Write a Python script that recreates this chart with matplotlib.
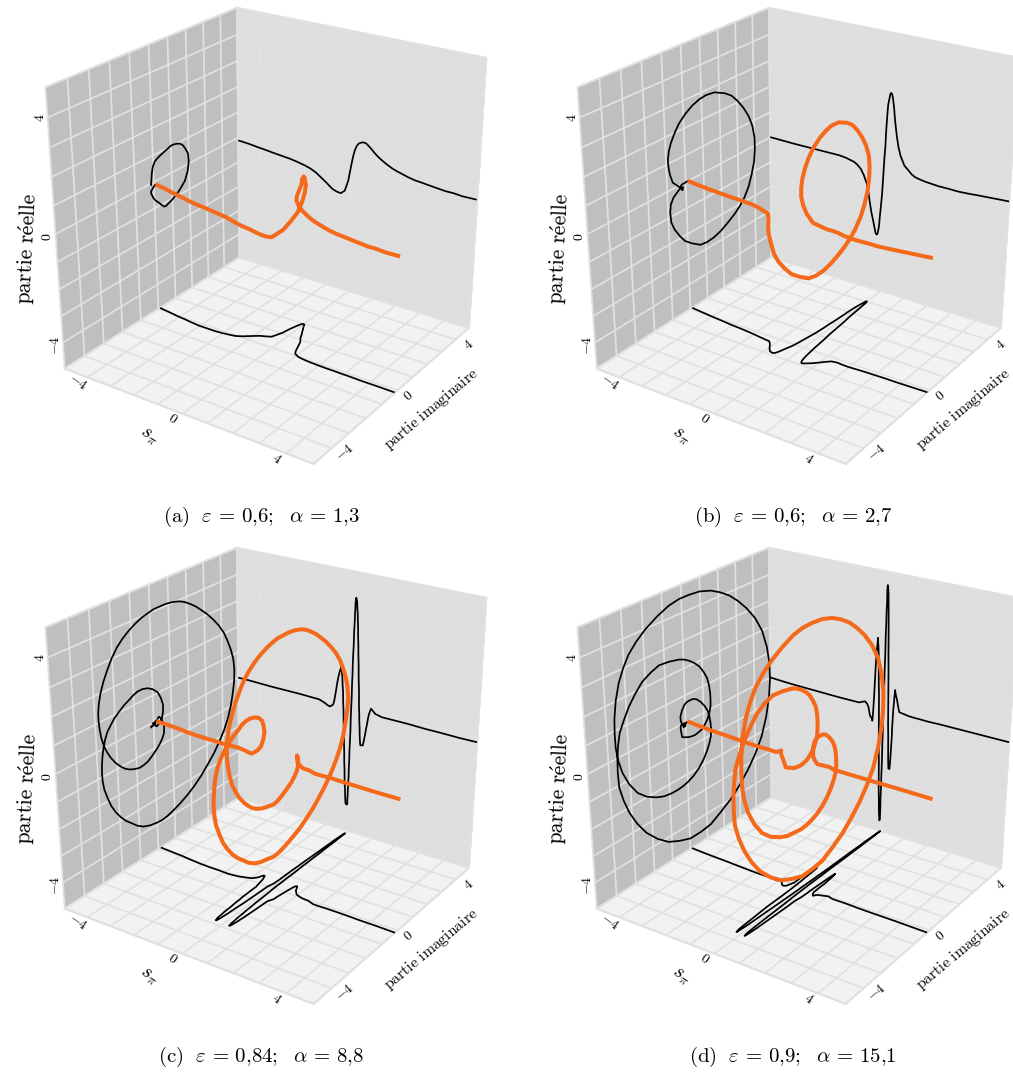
import numpy as np
import matplotlib
matplotlib.use('Agg')
import matplotlib.pyplot as plt

plt.rcParams['mathtext.fontset'] = 'cm'

s_a = [-5.00,-4.50,-4.13,-3.76,-3.39,-3.03,-2.67,-2.34,-2.02,-1.76,-1.52,-1.30,-1.09,-0.94,-0.80,-0.63,-0.44,-0.28,-0.22,-0.14,-0.08,-0.02,
       0.04,0.10,0.17,0.25,0.35,0.43,0.51,0.59,0.66,0.75,0.82,0.90,1.07,1.22,1.43,1.63,1.84,2.04,2.31,2.58,2.85,3.12,
       3.45,3.78,4.10,4.43,4.98]
re_a = [-0.12,-0.15,-0.19,-0.22,-0.26,-0.29,-0.32,-0.37,-0.43,-0.50,-0.60,-0.74,-0.87,-0.98,-1.07,-1.13,-1.15,-1.01,-0.83,-0.58,-0.24,0.10,
        0.40,0.64,0.81,0.93,0.99,1.02,1.02,0.99,0.94,0.87,0.81,0.74,0.61,0.52,0.41,0.32,0.25,0.20,0.13,0.08,0.06,0.03,
        0.00,-0.03,-0.03,-0.06,-0.05]
im_a = [0.10,0.03,-0.03,-0.07,-0.12,-0.16,-0.16,-0.16,-0.13,-0.09,-0.04,0.08,0.24,0.35,0.45,0.52,0.62,1.06,1.41,1.74,1.92,1.99,
        1.96,1.81,1.68,1.51,1.32,1.13,1.00,0.88,0.69,0.43,0.24,0.10,0.00,-0.04,-0.07,-0.09,-0.10,-0.11,-0.12,-0.12,-0.13,-0.13,
        -0.14,-0.15,-0.15,-0.15,-0.16]

s_b = [-5.00,-4.44,-3.92,-3.48,-3.05,-2.62,-2.19,-1.90,-1.62,-1.40,-1.26,-1.12,-0.97,-0.84,-0.71,-0.62,-0.56,-0.49,-0.41,-0.35,-0.29,-0.24,
       -0.21,-0.19,-0.16,-0.14,-0.13,-0.11,-0.08,-0.05,-0.03,-0.01,0.01,0.04,0.05,0.07,0.09,0.11,0.15,0.19,0.22,0.26,0.29,0.32,
       0.36,0.39,0.43,0.47,0.52,0.58,0.67,0.84,1.02,1.16,1.30,1.51,1.71,1.98,2.25,2.65,3.05,3.44,3.84,5.00]
re_b = [0.01,0.00,-0.01,-0.01,-0.01,-0.01,-0.01,-0.01,-0.04,-0.09,-0.12,-0.20,-0.33,-0.54,-0.83,-1.22,-1.55,-1.91,-2.21,-2.45,-2.70,-2.75,
        -2.72,-2.63,-2.47,-2.28,-2.08,-1.84,-1.48,-1.07,-0.62,-0.15,0.33,0.82,1.26,1.68,2.05,2.36,2.57,2.78,2.82,2.78,2.68,2.50,
        2.26,1.98,1.69,1.43,1.15,0.86,0.57,0.23,0.08,-0.04,-0.11,-0.15,-0.18,-0.20,-0.22,-0.22,-0.23,-0.21,-0.18,-0.11]
im_b = [0.11,0.04,-0.02,-0.06,-0.11,-0.14,-0.18,-0.22,-0.26,-0.29,-0.30,-0.45,-0.68,-0.84,-0.89,-0.85,-0.69,-0.42,-0.15,0.22,0.69,1.08,
        1.48,1.88,2.29,2.71,3.05,3.34,3.62,3.81,3.97,4.03,4.02,3.90,3.69,3.39,3.05,2.70,2.31,1.73,1.26,0.88,0.51,0.12,
        -0.24,-0.50,-0.71,-0.83,-0.90,-0.88,-0.82,-0.69,-0.51,-0.37,-0.24,-0.20,-0.22,-0.23,-0.21,-0.19,-0.18,-0.17,-0.17,-0.14]

s_c = [-5.00,-4.42,-3.98,-3.54,-3.11,-2.67,-2.24,-1.81,-1.39,-1.18,-1.03,-0.93,-0.80,-0.76,-0.72,-0.68,-0.64,-0.59,-0.54,-0.49,-0.49,-0.48,
       -0.48,-0.46,-0.45,-0.43,-0.42,-0.41,-0.39,-0.38,-0.37,-0.35,-0.34,-0.33,-0.31,-0.30,-0.28,-0.27,-0.25,-0.24,-0.23,-0.21,-0.20,-0.19,
       -0.18,-0.17,-0.11,-0.10,-0.10,-0.10,-0.09,-0.09,-0.08,-0.07,-0.07,-0.06,-0.06,-0.05,-0.04,-0.04,-0.03,-0.02,-0.02,-0.01,-0.01,0.00,
       0.01,0.01,0.02,0.03,0.03,0.04,0.04,0.05,0.06,0.06,0.07,0.07,0.08,0.10,0.11,0.12,0.14,0.15,0.17,0.18,0.20,0.21,
       0.23,0.24,0.25,0.27,0.28,0.29,0.31,0.32,0.34,0.35,0.36,0.37,0.38,0.39,0.49,0.50,0.53,0.55,0.58,0.60,0.63,0.66,
       0.68,0.71,0.75,0.79,0.97,1.25,1.52,1.79,2.06,2.33,2.99,3.65,4.30,5.00]
re_c = [-0.01,-0.01,-0.02,-0.03,-0.03,-0.03,-0.03,-0.04,-0.05,-0.12,-0.19,-0.22,-0.12,-0.01,0.22,0.47,0.75,1.02,1.23,1.36,1.42,1.42,
        1.36,1.27,1.17,1.03,0.89,0.71,0.52,0.29,0.03,-0.25,-0.54,-0.83,-1.15,-1.48,-1.86,-2.24,-2.58,-2.90,-3.13,-3.34,-3.57,-3.75,
        -3.86,-3.92,-3.94,-3.91,-3.82,-3.70,-3.55,-3.36,-3.10,-2.81,-2.49,-2.14,-1.78,-1.39,-0.95,-0.49,-0.05,0.41,0.84,1.26,1.65,2.03,
        2.39,2.71,3.01,3.28,3.51,3.71,3.85,3.95,4.03,4.07,4.07,4.07,4.02,3.96,3.85,3.70,3.52,3.31,3.01,2.67,2.34,1.99,
        1.67,1.34,1.05,0.74,0.42,0.07,-0.20,-0.47,-0.75,-1.00,-1.15,-1.27,-1.36,-1.42,-1.40,-1.35,-1.22,-1.08,-0.94,-0.77,-0.61,-0.42,
        -0.29,-0.14,-0.01,0.10,-0.06,-0.12,-0.12,-0.12,-0.12,-0.12,-0.14,-0.14,-0.15,-0.14]
im_c = [0.14,0.10,0.07,0.02,-0.02,-0.04,-0.04,-0.06,0.00,0.07,0.12,0.17,0.33,0.46,0.53,0.54,0.44,0.28,0.01,-0.26,-0.53,-0.80,
        -1.03,-1.25,-1.52,-1.78,-2.02,-2.23,-2.42,-2.55,-2.65,-2.72,-2.77,-2.79,-2.78,-2.72,-2.58,-2.41,-2.19,-1.92,-1.68,-1.40,-1.10,-0.77,
        -0.40,-0.02,0.27,0.57,0.97,1.37,1.78,2.19,2.63,3.03,3.44,3.78,4.09,4.33,4.52,4.65,4.74,4.76,4.70,4.55,4.36,4.14,
        3.85,3.53,3.19,2.83,2.51,2.16,1.88,1.60,1.23,0.86,0.55,0.22,-0.09,-0.41,-0.76,-1.12,-1.45,-1.74,-2.03,-2.28,-2.49,-2.66,
        -2.76,-2.82,-2.82,-2.79,-2.73,-2.62,-2.48,-2.31,-2.08,-1.81,-1.61,-1.38,-1.12,-0.84,-0.60,-0.38,-0.13,0.10,0.29,0.45,0.54,0.56,
        0.55,0.48,0.41,0.30,0.08,-0.02,-0.04,-0.14,-0.14,-0.13,-0.13,-0.15,-0.15,-0.17]

s_d = [-5.00,-4.44,-3.92,-3.41,-2.90,-2.40,-1.90,-1.47,-1.05,-0.91,-0.80,-0.71,-0.65,-0.58,-0.48,-0.48,-0.48,-0.47,-0.47,-0.46,-0.45,-0.44,
       -0.43,-0.42,-0.41,-0.40,-0.39,-0.38,-0.37,-0.36,-0.34,-0.33,-0.32,-0.31,-0.31,-0.31,-0.29,-0.27,-0.26,-0.25,-0.24,-0.22,-0.21,-0.20,
       -0.19,-0.18,-0.16,-0.15,-0.14,-0.12,-0.11,-0.09,-0.08,-0.07,-0.06,-0.05,-0.05,-0.05,-0.04,-0.04,-0.03,-0.03,-0.02,-0.02,-0.01,-0.01,
       0.00,0.00,0.01,0.01,0.02,0.02,0.02,0.03,0.03,0.04,0.05,0.07,0.08,0.09,0.10,0.11,0.12,0.13,0.15,0.16,0.17,0.18,
       0.19,0.21,0.22,0.23,0.24,0.25,0.25,0.29,0.30,0.30,0.31,0.32,0.33,0.34,0.35,0.36,0.36,0.37,0.38,0.39,0.41,0.42,
       0.44,0.44,0.44,0.45,0.45,0.49,0.55,0.57,0.60,0.62,0.64,1.03,1.23,1.44,1.84,2.25,2.78,3.83,5.00]
re_d = [0.00,-0.03,-0.05,-0.06,-0.07,-0.08,-0.09,-0.09,-0.09,-0.03,0.01,-0.06,-0.18,-0.49,-0.61,-0.65,-0.67,-0.64,-0.60,-0.48,-0.33,-0.12,
        0.10,0.35,0.61,0.92,1.23,1.52,1.79,2.01,2.18,2.31,2.40,2.49,2.53,2.41,2.23,1.93,1.59,1.22,0.84,0.43,-0.01,-0.53,
        -1.08,-1.64,-2.20,-2.77,-3.31,-3.79,-4.18,-4.41,-4.58,-4.58,-4.52,-4.27,-3.99,-3.63,-3.21,-2.74,-2.19,-1.48,-0.74,-0.09,0.56,1.27,
        1.98,2.59,3.12,3.53,3.87,4.14,4.34,4.48,4.52,4.52,4.44,4.24,3.98,3.70,3.38,2.99,2.57,2.01,1.41,0.90,0.39,-0.12,
        -0.62,-1.16,-1.64,-1.97,-2.20,-2.33,-2.38,-2.39,-2.36,-2.30,-2.20,-2.02,-1.78,-1.54,-1.27,-1.04,-0.79,-0.52,-0.25,-0.01,0.22,0.46,
        0.65,0.72,0.73,0.72,0.67,0.51,0.31,0.19,0.08,-0.01,-0.07,-0.13,-0.14,-0.14,-0.15,-0.14,-0.14,-0.14,-0.14]
im_d = [0.09,0.05,0.02,0.00,-0.03,-0.06,-0.08,-0.08,-0.11,-0.02,-0.20,-0.28,-0.28,-0.22,0.10,0.29,0.48,0.67,0.86,1.04,1.20,1.32,
        1.40,1.41,1.40,1.35,1.25,1.07,0.85,0.58,0.31,0.04,-0.23,-0.76,-1.28,-1.72,-2.16,-2.53,-2.87,-3.14,-3.38,-3.49,-3.56,-3.58,
        -3.55,-3.37,-3.12,-2.76,-2.32,-1.77,-1.18,-0.57,0.03,0.62,1.22,1.84,2.47,3.02,3.54,4.01,4.41,4.72,4.91,4.98,4.96,4.81,
        4.53,4.12,3.61,3.12,2.63,2.10,1.59,0.98,0.40,-0.13,-0.66,-1.28,-1.88,-2.35,-2.75,-3.05,-3.29,-3.48,-3.59,-3.62,-3.61,-3.52,
        -3.35,-3.05,-2.66,-2.21,-1.72,-1.31,-0.91,-0.58,-0.26,0.03,0.32,0.64,0.92,1.12,1.28,1.37,1.40,1.37,1.32,1.23,1.08,0.86,
        0.62,0.43,0.25,0.10,-0.03,-0.17,-0.27,-0.27,-0.24,-0.19,-0.16,-0.02,-0.09,-0.09,-0.09,-0.11,-0.12,-0.13,-0.16]

captions = [r'$\mathrm{(a)}\ \ \varepsilon\,=\,0{,}6;\ \ \alpha\,=\,1{,}3$',
            r'$\mathrm{(b)}\ \ \varepsilon\,=\,0{,}6;\ \ \alpha\,=\,2{,}7$',
            r'$\mathrm{(c)}\ \ \varepsilon\,=\,0{,}84;\ \ \alpha\,=\,8{,}8$',
            r'$\mathrm{(d)}\ \ \varepsilon\,=\,0{,}9;\ \ \alpha\,=\,15{,}1$']
tick_labels = [r'$-4$', r'$0$', r'$4$']
grid_ticks = [-5,-4,-3,-2,-1,0,1,2,3,4,5]

W, H = 1013, 1072
GRID = '#e1e1e1'
ORANGE = '#f4691a'

fig = plt.figure(figsize=(W/100, H/100), dpi=100)


def px_text(x, y, txt, **kw):
    fig.text(x/W, 1-y/H, txt, ha='center', va='center', **kw)


def panel(dx, dy, s, re, im, caption):
    size = 510.7
    ax = fig.add_axes([(9.7+dx)/W, 1-(-32.6+dy+size)/H, size/W, size/H],
                      projection='3d', computed_zorder=False)
    ax.patch.set_alpha(0)
    ax.view_init(elev=24.8, azim=-55.81)
    ax.set_proj_type('persp', focal_length=0.531)
    ax.set_box_aspect((4, 4*1.021, 4*1.007), zoom=1)
    ax.set_xlim(-5, 5)
    ax.set_ylim(-5, 5)
    ax.set_zlim(-5, 5)

    for axis, pane in zip((ax.xaxis, ax.yaxis, ax.zaxis), ('#bfbfbf', '#dedede', '#f2f2f2')):
        axis.set_pane_color(pane)
        axis.pane.set_edgecolor(GRID)
        axis.pane.set_linewidth(1.3)
        axis.line.set_color(GRID)
        axis.line.set_linewidth(1.3)
        axis._axinfo['grid'].update(color=GRID, linewidth=1.25)
        axis._axinfo['tick'].update(inward_factor=0, outward_factor=0)
    ax.set_xticks(grid_ticks)
    ax.set_yticks(grid_ticks)
    ax.set_zticks(grid_ticks)
    ax.set_xticklabels([])
    ax.set_yticklabels([])
    ax.set_zticklabels([])

    s = np.array(s)
    # the three shadows on the walls, then the curve itself
    black = dict(color='black', lw=1.25, zorder=3, solid_capstyle='butt')
    ax.plot(s, np.full(s.size, 5.0), re, **black)
    ax.plot(np.full(s.size, -5.0), im, re, **black)
    ax.plot(s, im, np.full(s.size, -5.0), **black)
    ax.plot(s, im, re, color=ORANGE, lw=2.9, zorder=4, solid_capstyle='butt')

    for (x, y), t in zip([(55, 345), (47, 237), (40, 118)], tick_labels):
        px_text(x+dx, y+dy, t, rotation=90, fontsize=10)
    for (x, y), t in zip([(78, 382), (173, 418), (277, 459)], tick_labels):
        px_text(x+dx, y+dy, t, rotation=-35, fontsize=10)
    for (x, y), t in zip([(345, 452), (408, 396), (468, 345)], tick_labels):
        px_text(x+dx, y+dy, t, rotation=40, fontsize=10)
    px_text(27+dx, 249+dy, r'$\mathrm{partie\ r\acute{e}elle}$', rotation=87, fontsize=15.5)
    px_text(431+dx, 409+dy, r'$\mathrm{partie\ imaginaire}$', rotation=40, fontsize=11.3)
    px_text(149+dx, 436+dy, r'$s_\pi$', rotation=-35, fontsize=14)
    px_text(261+dx, 517+dy, caption, fontsize=15)


panel(0, 0, s_a, re_a, im_a, captions[0])
panel(532, 0, s_b, re_b, im_b, captions[1])
panel(0, 540, s_c, re_c, im_c, captions[2])
panel(532, 540, s_d, re_d, im_d, captions[3])

fig.savefig('out.png', dpi=100)
